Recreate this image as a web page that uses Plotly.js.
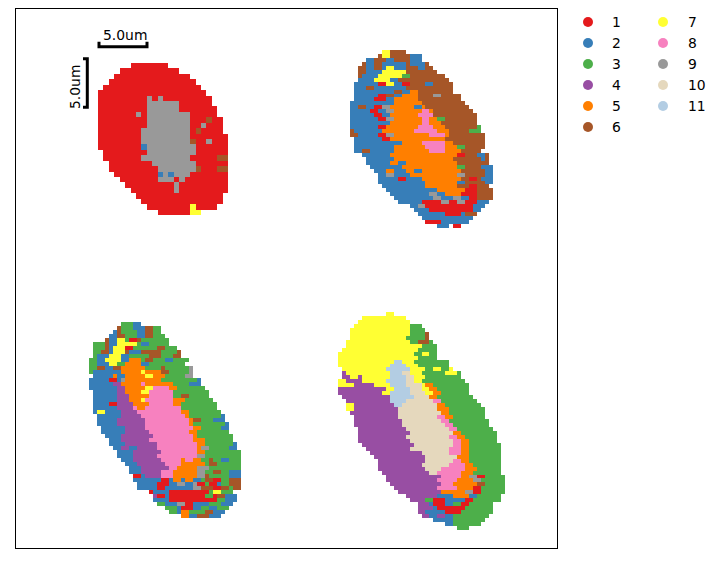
<!DOCTYPE html>
<html><head><meta charset="utf-8">
<script src="https://cdn.plot.ly/plotly-3.0.1.min.js"></script>
<style>html,body{margin:0;padding:0;background:#fff}#c{width:721px;height:563px}</style></head>
<body><div id="c"></div>
<script>
// Cluster labels per grid row, as "label:firstColumn" breakpoints (label 0 = empty).
const clusterA = [
"1:6 0:13","1:4 0:15","1:3 0:17","1:2 0:18","1:1 0:19","1:0 0:20",
"1:0 9:9 1:10 9:11 1:12 0:21","1:0 9:9 1:15 0:21","1:0 9:9 1:15 0:22","1:0 9:7 1:8 9:9 1:17 0:22",
"1:0 9:9 1:17 6:20 1:21 0:23","1:0 9:9 1:17 9:19 1:20 0:23","1:0 9:8 1:17 6:18 1:19 0:23",
"1:0 9:8 1:17 0:24","1:0 9:8 1:17 6:17 1:18 9:20 1:21 0:24","1:0 2:8 9:9 1:18 0:24","1:1 9:9 1:18 0:24",
"1:1 9:8 1:17 6:22 0:24","1:2 9:10 1:18 0:24","1:2 9:11 6:18 1:19 6:22 0:24",
"1:3 2:11 9:12 2:13 9:14 1:17 0:24","1:4 9:11 1:14 9:15 1:16 0:24","1:5 9:14 1:15 0:24","1:6 9:14 1:15 0:24",
"1:7 0:23","1:8 0:23","1:9 7:17 1:18 0:22","1:11 7:17 0:19"];
const clusterB = [
"7:8 6:10 0:14","6:7 7:8 6:10 2:15 0:18","2:4 6:6 2:9 6:11 2:15 0:18","6:3 2:4 6:6 2:8 6:14 2:15 6:19 0:20",
"6:2 2:4 6:6 2:8 7:9 2:11 6:14 2:17 6:19 0:21","6:2 2:4 7:8 6:14 0:22","6:2 2:3 7:7 3:13 6:15 0:24",
"2:2 7:6 2:10 6:12 0:25","2:1 1:7 7:9 2:11 1:13 6:15 2:19 6:21 0:26","2:1 6:4 2:6 6:14 0:26",
"2:1 6:11 2:13 5:15 6:17 0:26","2:1 1:7 6:9 2:11 5:13 6:17 9:21 6:23 0:28","2:1 1:6 2:9 5:11 6:17 0:28",
"2:0 5:11 6:18 0:29","2:0 6:2 2:4 1:6 9:8 5:10 2:16 5:18 6:19 0:30","2:0 1:5 2:7 9:9 5:11 8:18 5:20 6:21 0:31",
"2:0 1:6 2:8 5:10 8:17 6:21 0:32","2:0 1:7 9:9 5:11 8:18 5:20 3:22 6:24 0:32","2:0 5:10 8:18 5:20 6:23 0:32",
"2:0 1:7 5:9 8:17 5:21 6:24 3:32 0:33","6:0 2:1 5:8 8:16 5:22 6:25 3:30 0:33","6:0 2:2 1:7 9:9 5:11 8:20 5:24 6:25 0:34",
"2:1 1:8 5:10 6:24 0:34","2:1 5:13 8:18 5:24 6:26 0:34","2:1 5:11 8:19 5:24 3:27 6:29 0:34",
"2:1 6:3 2:5 5:11 8:20 5:24 6:28 0:33","2:3 5:10 1:27 6:29 2:32 6:34 0:35","2:4 5:11 6:26 2:33 6:34 0:35",
"2:4 5:10 2:12 5:14 6:27 0:35","2:5 5:13 3:27 6:29 2:33 0:36","2:6 5:9 2:11 5:14 2:16 5:18 6:28 2:34 0:36",
"2:7 9:9 2:11 5:15 9:27 6:29 2:34 0:36","2:7 1:12 2:14 5:18 6:28 1:30 6:32 2:33 0:36","2:7 5:19 2:27 6:29 2:34 0:36",
"2:8 5:19 6:27 1:30 6:32 0:35","2:9 5:22 1:29 6:32 0:36","2:10 9:20 2:22 5:24 1:28 6:32 0:36",
"2:11 9:21 2:23 9:26 2:28 1:30 6:32 0:36","2:12 1:18 9:23 1:25 9:27 1:29 2:32 0:35","2:15 9:17 1:19 2:31 0:34",
"2:16 1:20 2:31 0:33","2:17 1:24 2:28 6:29 0:32","2:18 0:31","1:19 2:23 0:30","2:22 0:25 1:26 0:28"];
const clusterC = [
"3:8 2:11 0:13","6:7 3:8 2:11 6:14 3:16 0:18","2:6 6:7 3:8 2:12 6:14 3:16 0:18","2:5 6:7 3:9 2:12 6:14 3:16 0:19",
"6:4 2:5 7:7 3:9 1:10 6:12 3:13 0:20","3:1 6:4 2:5 7:7 3:12 2:13 3:15 0:20","3:1 6:4 2:5 7:6 1:9 3:11 6:17 3:19 0:22",
"3:1 6:3 2:5 7:6 6:9 2:10 6:13 3:18 6:22 0:23","3:1 2:2 7:5 2:8 3:10 6:15 3:18 6:21 0:23",
"3:0 2:2 7:4 2:8 5:10 3:13 6:14 3:16 2:19 3:21 0:25","3:0 2:2 7:5 3:7 5:9 2:13 3:15 0:24",
"3:0 6:2 2:4 6:6 5:8 3:14 6:18 3:19 9:25 0:26","3:0 2:1 5:8 7:13 5:14 6:18 3:20 9:25 0:26",
"2:1 5:6 2:7 5:9 7:14 5:16 3:19 9:24 0:26","2:0 1:5 2:7 9:8 5:9 3:18 2:27 0:28","2:0 4:6 5:8 8:13 5:14 3:21 2:25 0:28",
"2:0 4:7 5:9 7:14 8:16 5:20 3:22 0:29","2:1 4:7 5:9 7:13 8:15 3:21 0:30","2:1 4:7 5:10 8:15 3:21 6:23 3:25 0:30",
"2:1 4:7 5:10 7:13 8:14 5:21 3:24 0:31","2:1 1:5 4:7 5:11 8:15 5:21 3:23 0:32","2:1 4:7 8:11 5:12 8:14 3:23 0:32",
"2:1 7:2 2:4 4:8 8:12 5:23 3:25 0:33","2:2 4:8 8:13 5:24 3:25 2:33 0:34","2:2 4:7 8:14 5:25 6:26 3:28 2:31 0:34",
"2:2 4:7 8:14 5:25 3:26 2:34 0:35","2:3 4:9 8:14 5:26 3:28 2:33 0:35","2:3 4:9 8:15 5:25 3:27 0:35",
"2:4 4:8 8:16 5:26 3:27 0:36","2:5 4:8 8:15 5:26 3:29 0:36","2:5 4:9 8:17 5:27 3:29 2:36 0:37",
"2:6 4:8 2:10 4:12 8:17 5:27 9:28 3:30 2:35 0:37","2:7 4:11 8:18 5:27 3:29 0:38","2:7 4:11 8:17 9:27 3:29 0:38",
"2:8 4:11 8:18 5:23 8:24 5:26 3:28 6:30 3:31 2:33 3:35 0:38","2:9 4:12 8:19 5:23 3:29 6:30 3:32 0:38",
"2:10 4:13 8:20 5:22 9:27 3:30 0:38","2:10 4:13 8:18 5:21 9:27 3:29 6:31 3:33 2:35 0:38",
"1:11 2:13 4:14 8:18 5:21 9:27 6:29 3:30 2:35 0:38","2:11 1:18 2:20 5:21 2:23 5:24 2:26 3:28 6:29 1:31 3:33 6:35 0:38",
"2:12 1:17 2:20 9:22 2:24 9:26 1:27 3:29 1:30 2:32 3:33 6:35 0:38","2:12 1:17 2:19 9:26 6:28 1:31 6:33 3:35 6:36 0:38",
"1:15 2:16 1:20 3:30 7:31 3:33 0:36","4:16 1:17 2:19 1:20 3:29 1:31 6:32 2:34 0:37","2:16 1:20 3:32 2:34 0:37",
"3:17 2:19 9:22 1:24 2:26 3:30 2:33 0:36","3:19 2:22 1:23 2:26 3:28 2:30 3:32 0:35","3:20 2:22 5:23 3:25 6:29 2:31 0:34",
"5:23 2:25 6:27 2:30 0:33"];
const clusterD = [
"7:12 0:14","7:6 0:17","7:5 0:18","7:4 3:18 0:21","7:3 3:18 0:22","7:3 3:18 6:22 0:23","7:3 3:17 6:22 0:23",
"7:2 3:18 6:20 3:23 0:24","7:2 3:21 0:25","7:1 3:20 0:25","7:0 3:19 7:21 3:23 0:25","7:0 3:20 0:25",
"7:0 11:14 7:16 3:19 0:28","7:0 11:13 7:17 3:20 0:28","7:1 11:12 7:18 3:22 7:24 3:26 7:28 0:29",
"4:1 7:2 11:13 10:16 7:18 3:21 7:27 3:30 0:31","4:1 7:3 4:5 7:6 11:13 10:17 7:19 3:22 0:31",
"7:0 4:2 7:6 11:12 10:17 7:19 3:21 0:32","7:0 4:4 7:9 11:13 10:17 7:21 5:22 3:24 0:33",
"4:0 7:12 11:14 10:18 7:21 5:23 3:25 0:33","4:0 7:11 11:13 10:18 7:22 5:24 3:26 0:33","4:1 11:13 10:19 5:23 3:25 0:34",
"4:2 11:13 10:17 8:24 3:26 0:35","7:2 4:4 11:14 10:16 5:25 3:27 0:36","7:2 4:4 10:15 5:25 3:28 0:37",
"4:3 10:15 5:26 3:28 0:37","4:4 10:15 8:25 5:27 3:29 0:37","4:4 10:16 8:26 3:28 0:38","4:4 10:16 8:27 3:29 0:38",
"4:5 10:17 8:28 3:30 0:39","4:5 10:18 5:29 3:31 0:40","4:5 10:17 8:28 5:30 3:32 0:40","4:5 10:18 8:29 5:31 3:33 0:40",
"4:6 10:19 8:29 5:31 3:33 0:41","4:7 10:18 8:28 5:31 3:33 0:41","4:8 10:21 8:28 5:31 3:33 0:41","4:9 10:22 5:30 3:33 0:41",
"4:10 10:22 8:29 5:31 3:33 0:41","4:10 10:21 8:28 5:32 3:34 0:41","4:10 10:22 8:26 5:32 3:35 0:41",
"4:11 10:23 8:25 5:31 3:34 0:41","4:12 8:26 5:31 9:33 1:35 3:37 0:42","4:12 8:25 5:30 9:34 3:36 0:42",
"4:13 8:26 5:29 6:35 3:37 0:42","4:14 8:25 5:30 1:34 3:36 0:42","4:15 5:26 9:32 1:34 3:36 0:42",
"4:17 2:25 5:29 2:33 3:35 0:41","4:18 3:22 1:24 2:27 1:32 3:34 0:41","4:20 2:23 1:24 2:27 3:29 1:31 3:33 0:39",
"4:20 2:24 1:25 3:32 0:39","4:20 2:22 1:27 3:31 0:39","4:21 2:23 4:25 2:27 3:29 0:38","2:24 3:29 0:37","2:27 3:29 0:36","3:30 0:33"];

const labelsCol1 = ["1","2","3","4","5","6"];
const labelsCol2 = ["7","8","9","10","11"];
const clusterColors = ["#e41a1c","#377eb8","#4daf4a","#984ea3","#ff7f00","#a65628","#ffff33","#f781bf","#999999","#e5d8bd","#b3cde3"];
const barText = "5.0um";

// Placement of each grid on the plot (left, top, cell w, cell h), in axis units.
const grids = [
  {rows:clusterA,left:98,top:63,dx:5.42,dy:5.43},
  {rows:clusterB,left:350,top:50,dx:3.97,dy:3.95},
  {rows:clusterC,left:89,top:322,dx:4,dy:4},
  {rows:clusterD,left:338,top:312,dx:3.98,dy:3.965}
];

function decode(rows){
  const parsed = rows.map(r=>r.split(" ").map(t=>t.split(":").map(Number)));
  const w = Math.max(...parsed.map(p=>p[p.length-1][1]));
  return parsed.map(p=>{
    const line = new Array(w).fill(null);
    p.forEach((tok,i)=>{
      if(!tok[0]) return;
      const end = i+1<p.length ? p[i+1][1] : w;
      for(let c=tok[1];c<end;c++) line[c]=tok[0];
    });
    return line;
  });
}
const n = clusterColors.length;
const scale = [];
clusterColors.forEach((col,i)=>{scale.push([i/n,col]);scale.push([(i+1)/n,col]);});

const traces = grids.map(g=>({
  type:"heatmap",z:decode(g.rows),x0:g.left+g.dx/2,dx:g.dx,y0:g.top+g.dy/2,dy:g.dy,
  colorscale:scale,zmin:0.5,zmax:n+0.5,showscale:false,hoverinfo:"skip",zsmooth:false
}));
const barStyle={color:"#000",width:3};
traces.push({type:"scatter",mode:"lines",x:[99,99,147,147],y:[41.7,46.8,46.8,41.7],line:barStyle,hoverinfo:"skip",showlegend:false});
traces.push({type:"scatter",mode:"lines",x:[83,87.3,87.3,83],y:[58.8,58.8,107.2,107.2],line:barStyle,hoverinfo:"skip",showlegend:false});

const font={family:"DejaVu Sans",size:13.9,color:"#000"};
function legendCol(labels,offset,mx,tx,ys){
  traces.push({type:"scatter",mode:"markers",xaxis:"x2",yaxis:"y2",x:labels.map(()=>mx),y:ys,
    marker:{size:10,color:labels.map((_,i)=>clusterColors[i+offset])},hoverinfo:"skip",showlegend:false});
  traces.push({type:"scatter",mode:"text",xaxis:"x2",yaxis:"y2",x:labels.map(()=>tx),y:ys.map(v=>v+1.5),text:labels,
    textposition:"middle right",textfont:font,hoverinfo:"skip",showlegend:false});
}
const legendYs=[22,43,64,85,106,127];
legendCol(labelsCol1,0,588,612,legendYs);
legendCol(labelsCol2,6,663,688,legendYs.slice(0,5));

const W=721,H=563;
Plotly.newPlot("c",traces,{
  width:W,height:H,margin:{l:0,r:0,t:0,b:0},paper_bgcolor:"#fff",plot_bgcolor:"rgba(0,0,0,0)",showlegend:false,
  xaxis:{domain:[15.5/W,557/W],range:[15.5,557],showticklabels:false,ticks:"",showgrid:false,zeroline:false,showline:true,mirror:true,linecolor:"#000",linewidth:1,fixedrange:true},
  yaxis:{domain:[1-548/H,1-9/H],range:[548,9],showticklabels:false,ticks:"",showgrid:false,zeroline:false,showline:true,mirror:true,linecolor:"#000",linewidth:1,fixedrange:true},
  xaxis2:{domain:[0,1],range:[0,W],visible:false,anchor:"y2",fixedrange:true},
  yaxis2:{domain:[0,1],range:[H,0],visible:false,anchor:"x2",fixedrange:true},
  annotations:[
    {xref:"x",yref:"y",x:124.5,y:34.5,text:barText,showarrow:false,font:font,xanchor:"center",yanchor:"middle"},
    {xref:"x",yref:"y",x:75,y:87,text:barText,showarrow:false,font:font,textangle:-90,xanchor:"center",yanchor:"middle"}
  ]
},{staticPlot:true,displayModeBar:false});
</script></body></html>
